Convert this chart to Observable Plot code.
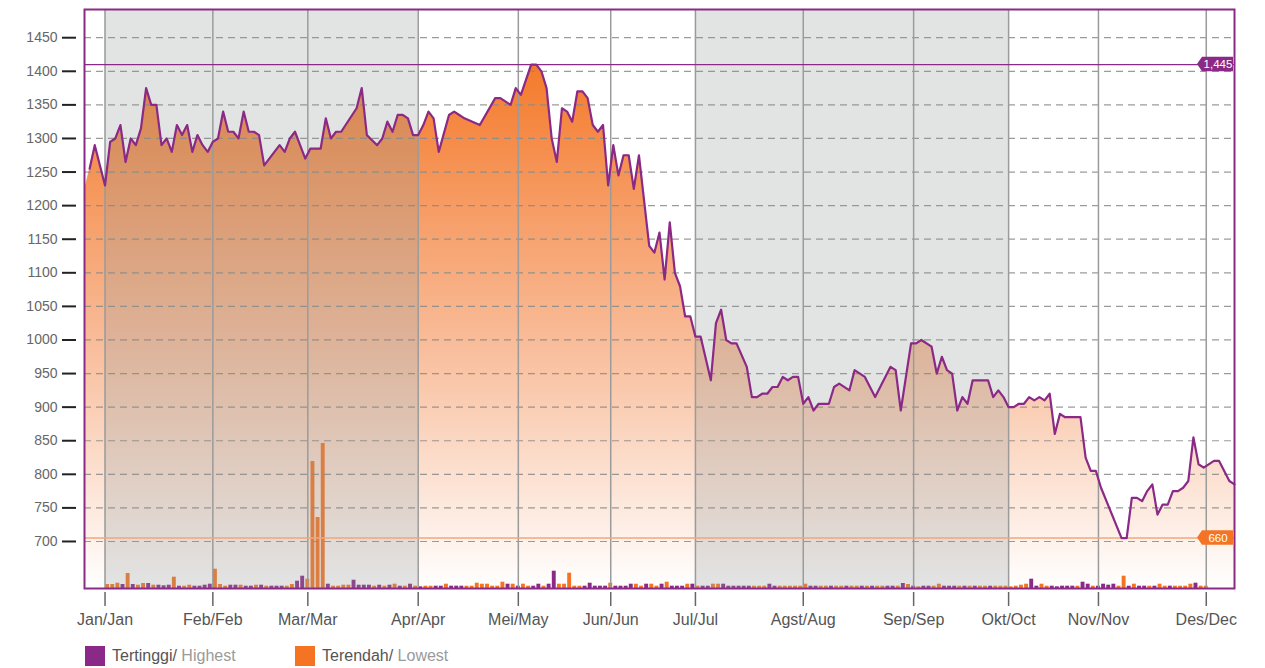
<!DOCTYPE html>
<html><head><meta charset="utf-8">
<script src="https://cdn.jsdelivr.net/npm/d3@7"></script>
<script src="https://cdn.jsdelivr.net/npm/@observablehq/plot@0.6"></script>
<style>
body{margin:0;background:#fff;font-family:"Liberation Sans",Arial,Helvetica,sans-serif;}
#wrap{position:relative;width:1265px;height:668px;overflow:hidden}
.legend{position:absolute;top:646px;height:20px;display:flex;align-items:center;font-size:16px;white-space:nowrap}
.sw{display:inline-block;width:20px;height:20px;margin-right:7px}
</style></head><body>
<div id="wrap"><div id="chart"></div>
<div class="legend" style="left:85px"><span class="sw" style="background:#8b2a86"></span><span style="color:#555">Tertinggi/</span><span style="color:#9a9a9a">&nbsp;Highest</span></div>
<div class="legend" style="left:295px"><span class="sw" style="background:#f47424"></span><span style="color:#555">Terendah/</span><span style="color:#9a9a9a">&nbsp;Lowest</span></div>
</div>
<script>
// ---------- data ----------
const monthId = ["Jan","Feb","Mar","Apr","Mei","Jun","Jul","Agst","Sep","Okt","Nov","Des"];
const monthEn = ["Jan","Feb","Mar","Apr","May","Jun","Jul","Aug","Sep","Oct","Nov","Dec"];
// trading-day index of each month start
const monthStart = [0,21,39.5,61,80.5,98.5,115,136,157.5,176,193.5,214.5];
const shadedFrom = ["Jan","Jul"];
const shadedTo = ["Apr","Okt"];
const yTicks = [700,750,800,850,900,950,1000,1050,1100,1150,1200,1250,1300,1350,1400,1450];
const highLabel = "1,445";
const lowLabel = "660";
const areaStartDay = -5, areaStartPrice = 1190;
const closeDay = [-3,-2,0,1,2,3,4,5,6,7,8,9,10,11,12,13,14,15,16,17,18,19,20,21,22,23,24,25,26,27,28,29,30,31,34,35,36,37,39,40,42,43,44,45,46,49,50,51,53,54,55,56,57,58,59,60,61,62,63,64,65,67,68,69,70,73,76,77,79,80,81,83,84,85,86,87,88,89,90,91,92,93,94,95,96,97,98,99,100,101,102,103,104,106,107,108,109,110,111,112,113,114,115,116,118,119,120,121,122,123,125,126,127,128,129,130,131,132,133,134,135,136,137,138,139,141,142,143,145,146,148,150,153,154,155,157,158,159,161,162,163,164,165,166,167,168,169,172,173,174,175,176,177,178,179,180,181,182,183,184,185,186,187,188,189,190,191,192,193,194,198,199,200,201,202,203,204,205,206,207,208,209,210,211,212,213,214,216,217,219,220];
const closePrice = [1255,1290,1230,1295,1300,1320,1265,1300,1290,1315,1375,1350,1350,1290,1300,1280,1320,1305,1320,1280,1305,1290,1280,1295,1300,1340,1310,1310,1300,1340,1310,1310,1305,1260,1290,1280,1300,1310,1270,1285,1285,1330,1300,1310,1310,1345,1375,1305,1290,1300,1325,1310,1335,1335,1330,1305,1305,1320,1340,1330,1280,1335,1340,1335,1330,1320,1360,1360,1350,1375,1365,1410,1410,1400,1375,1300,1265,1345,1340,1325,1370,1370,1360,1320,1310,1320,1230,1290,1245,1275,1275,1225,1275,1140,1130,1160,1090,1175,1100,1080,1035,1035,1005,1005,940,1025,1045,1000,995,995,960,915,915,920,920,930,930,945,940,945,945,905,915,895,905,905,930,935,925,955,945,915,960,955,895,995,995,1000,990,950,975,955,950,895,915,905,940,940,915,925,915,900,900,905,905,915,910,915,910,920,860,890,885,885,885,885,825,805,805,780,705,705,765,765,760,775,785,740,755,755,775,775,780,790,855,815,810,820,820,790,785];
// daily trading volume (relative units), one per trading day from day 0
const volume = [
 40,40,53,40,150,40,33,50,50,33,33,27,33,113,23,23,33,23,23,33,43,
 193,40,23,33,33,33,23,23,33,33,23,23,23,23,23,40,73,123,
 93,1270,710,1450,43,23,23,33,33,83,33,33,33,23,33,23,33,43,23,23,43,
 23,17,23,23,23,23,43,23,23,23,23,23,53,43,43,23,23,63,43,43,
 23,43,23,23,43,23,43,173,43,43,153,23,23,23,53,23,23,23,
 53,23,23,23,43,43,23,43,43,23,43,63,23,23,23,43,43,
 23,23,23,43,43,43,23,23,23,23,23,23,23,23,43,23,23,23,23,23,23,
 43,23,23,23,23,23,23,23,23,23,23,23,23,23,23,23,23,23,23,50,40,
 23,17,23,23,23,43,23,23,23,23,23,23,23,23,23,23,23,23,
 23,17,23,33,43,93,23,43,23,23,17,23,23,23,23,63,43,23,
 23,43,33,43,23,123,23,43,23,23,23,23,43,23,23,23,23,23,43,53,23,23];
// P = purple bar, O = orange bar
const volSide = ("OOOPOPOOPOPPPOPOOPPPP"+"OOOPPOPPOPOPPPOOPP"+"OOOOPOOOOPPPPOPOPOPOP"+"OPOOPPOPPPOOOOOOOOPO"+
 "POOPPOPPOOOOOPPPPP"+"OPPPPOOPOOPOPPPOP"+"OPPOOPPPPPPOOOPPOOOOO"+"OPPOOPOOPOOPOPOOPPOPO"+
 "POPPOOPPPOPOPOOPOO"+"OOOOOPPOOPPPPPOPPO"+"PPPPOOPOPPOPOOPOOOOPOO").split("");

// ---------- build ----------
const PURPLE = "#8b2a86", ORANGE = "#f47424";
const yMin = 630, yMax = 1492, VOL_K = 0.1489;
const series = closeDay.map((d, i) => ({d, v: closePrice[i]}));
const areaSeries = [{d: areaStartDay, v: areaStartPrice}, ...series];
const bars = volume.map((v, i) => ({d: i, v, side: volSide[i]}));
const bands = shadedFrom.map((m, i) => ({x1: monthStart[monthId.indexOf(m)], x2: monthStart[monthId.indexOf(shadedTo[i])]}));
const months = monthStart.map((p, i) => ({p, label: monthId[i] + "/" + monthEn[i]}));
const hi = d3.max(closePrice), lo = d3.min(closePrice);

const chart = Plot.plot({
  width: 1265, height: 640,
  marginLeft: 84, marginRight: 31, marginTop: 9, marginBottom: 52,
  x: {domain: [-4, 220], axis: null},
  y: {domain: [yMin, yMax], axis: null},
  style: {fontFamily: "'Liberation Sans', Arial, Helvetica, sans-serif", background: "transparent", overflow: "visible"},
  marks: [
    Plot.areaY(areaSeries, {x: "d", y1: yMin, y2: "v", fill: "url(#priceGrad)", clip: true}),
    Plot.rect(bars.filter(b => b.side === "P"), {x1: b => b.d + 0.12, x2: b => b.d + 0.88, y1: yMin, y2: b => yMin + b.v * VOL_K, fill: PURPLE}),
    Plot.rect(bars.filter(b => b.side === "O"), {x1: b => b.d + 0.12, x2: b => b.d + 0.88, y1: yMin, y2: b => yMin + b.v * VOL_K, fill: ORANGE}),
    Plot.rect(bands, {x1: "x1", x2: "x2", fill: "#959a9a", fillOpacity: 0.27}),
    Plot.ruleY(yTicks, {stroke: "#8a8a8a", strokeWidth: 1.2, strokeDasharray: "7,5", strokeOpacity: 0.85}),
    Plot.ruleX(monthStart, {stroke: "#9b9b9b", strokeWidth: 1.5}),
    Plot.ruleY([hi], {stroke: PURPLE, strokeWidth: 1.3}),
    Plot.ruleY([lo], {stroke: "#f5a57a", strokeWidth: 1.5}),
    Plot.line(series, {x: "d", y: "v", stroke: PURPLE, strokeWidth: 2.2, strokeLinejoin: "round"}),
    Plot.frame({stroke: PURPLE, strokeWidth: 2}),
    Plot.axisY(yTicks, {anchor: "left", tickSize: 14, tickPadding: 5, dx: -8, stroke: "#222", strokeWidth: 2, fill: "#666", fontSize: 14, tickFormat: d => String(d), label: null}),
    Plot.axisX(monthStart, {anchor: "bottom", tickSize: 14, dy: 4, stroke: "#666", strokeWidth: 1.5, tickFormat: () => "", label: null}),
    Plot.text(months, {x: "p", frameAnchor: "bottom", dy: 36, text: "label", fontSize: 16, fill: "#555", ariaLabel: "month-labels"})
  ]
});

const svg = chart.tagName.toLowerCase() === "svg" ? chart : chart.querySelector("svg");
const ns = "http://www.w3.org/2000/svg";
const ys = chart.scale("y"), xs = chart.scale("x");
// gradient
const defs = document.createElementNS(ns, "defs");
const g1 = ys.apply(hi), g2 = ys.apply(yMin);
defs.innerHTML = `<linearGradient id="priceGrad" gradientUnits="userSpaceOnUse" x1="0" y1="${g1}" x2="0" y2="${g2}">
<stop offset="0" stop-color="#f47a2b"/><stop offset="0.5" stop-color="#f8b893"/><stop offset="1" stop-color="#ffffff"/></linearGradient>`;
svg.insertBefore(defs, svg.firstChild);
// two-tone month labels
svg.querySelectorAll('g[aria-label="month-labels"] text').forEach(t => {
  const s = t.textContent, k = s.indexOf("/");
  t.textContent = "";
  const a = document.createElementNS(ns, "tspan"); a.textContent = s.slice(0, k + 1); a.setAttribute("fill", "#555");
  const b = document.createElementNS(ns, "tspan"); b.textContent = s.slice(k + 1); b.setAttribute("fill", "#9a9a9a");
  t.append(a, b);
});
// callouts for highest / lowest
function callout(value, label, color) {
  const y = ys.apply(value), xr = xs.apply(220) - 1, w = 31, h = 14.5, x0 = xr - w;
  const g = document.createElementNS(ns, "g");
  const p = document.createElementNS(ns, "path");
  p.setAttribute("d", `M${x0 - 5},${y}L${x0},${y - h / 2}H${xr}V${y + h / 2}H${x0}Z`);
  p.setAttribute("fill", color);
  const t = document.createElementNS(ns, "text");
  t.setAttribute("x", (x0 + xr) / 2 + 0.5); t.setAttribute("y", y);
  t.setAttribute("dy", "0.36em"); t.setAttribute("text-anchor", "middle");
  t.setAttribute("fill", "#fff"); t.setAttribute("font-size", "11.5");
  t.textContent = label;
  g.append(p, t); svg.append(g);
}
callout(hi, highLabel, PURPLE);
callout(lo, lowLabel, ORANGE);
document.getElementById("chart").append(chart);
</script>
</body></html>
